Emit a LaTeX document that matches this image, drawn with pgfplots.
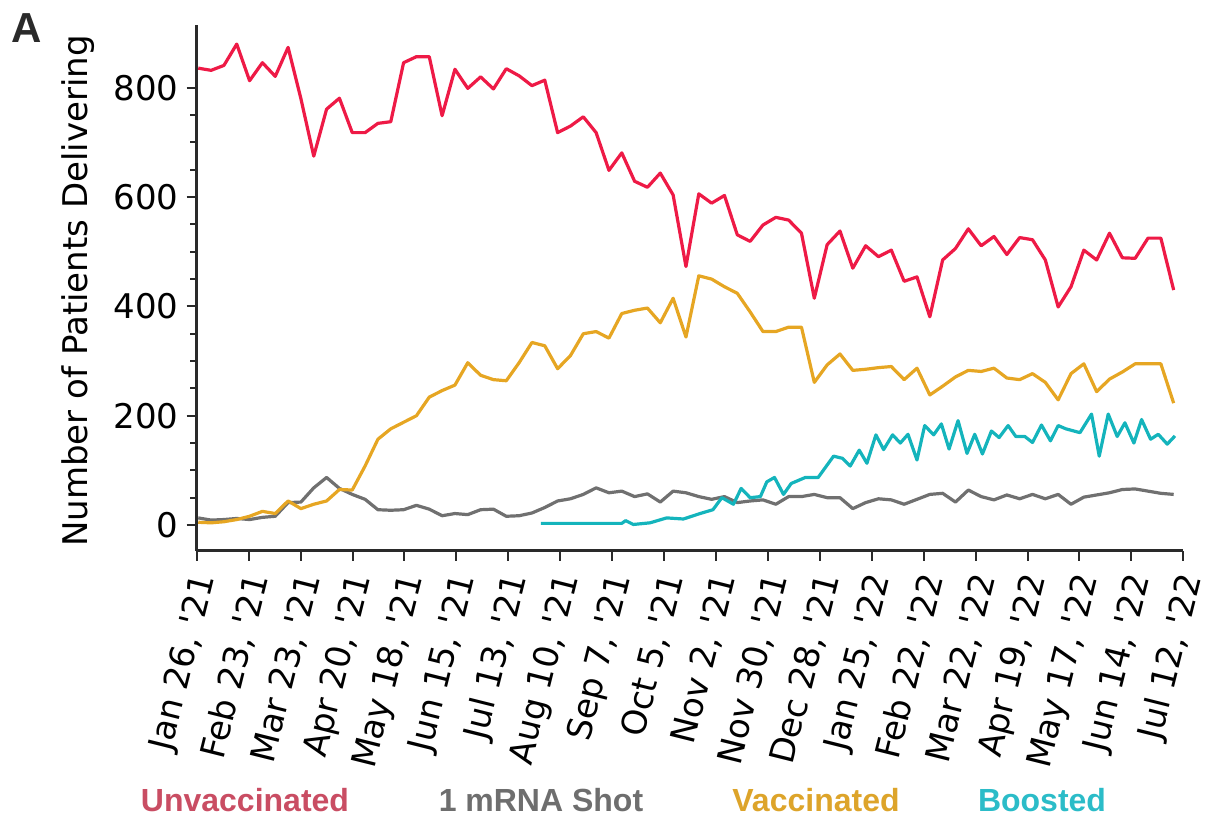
\documentclass[border=0pt]{standalone}
\usepackage{pgfplots}
\pgfplotsset{compat=1.18}
\usepackage{fontspec}
\setmainfont{DejaVu Sans}
\newfontfamily\legfont{Liberation Sans}
\definecolor{unvac}{HTML}{EE1A46}
\definecolor{unvactxt}{HTML}{C94D63}
\definecolor{shot}{HTML}{707070}
\definecolor{shottxt}{HTML}{6E6E6E}
\definecolor{vac}{HTML}{E6A623}
\definecolor{vactxt}{HTML}{DDA42A}
\definecolor{boost}{HTML}{14B4BC}
\definecolor{boosttxt}{HTML}{2BBCC8}
\definecolor{axcol}{HTML}{2A2A2A}
\newcommand{\q}{\textquotesingle}
\begin{document}
\begin{tikzpicture}
\path[use as bounding box] (0,0) rectangle (602.5bp,407bp);
\begin{axis}[
  at={(98.35bp,131.65bp)}, anchor=south west,
  scale only axis, width=493.3bp, height=262.85bp,
  xmin=-0.12, xmax=76.75, ymin=-47, ymax=915,
  axis lines=left,
  axis line style={-, line width=1.3bp, color=axcol},
  tick align=outside,
  major tick length=5bp, minor tick length=3.2bp,
  every tick/.style={line width=1bp, color=axcol},
  ytick={0,200,400,600,800},
  minor y tick num=3,
  xtick={-0.12,3.93,7.97,12.02,16.06,20.11,24.16,28.20,32.25,36.29,40.34,44.39,48.43,52.48,56.52,60.57,64.62,68.66,72.71,76.75},
  minor x tick num=3,
  xticklabels={{Jan 26, \q21},{Feb 23, \q21},{Mar 23, \q21},{Apr 20, \q21},{May 18, \q21},{Jun 15, \q21},{Jul 13, \q21},{Aug 10, \q21},{Sep 7, \q21},{Oct 5, \q21},{Nov 2, \q21},{Nov 30, \q21},{Dec 28, \q21},{Jan 25, \q22},{Feb 22, \q22},{Mar 22, \q22},{Apr 19, \q22},{May 17, \q22},{Jun 14, \q22},{Jul 12, \q22}},
  xticklabel style={font=\fontsize{17bp}{20bp}\selectfont, xshift=5bp, yshift=-6bp, rotate=76, anchor=east, inner sep=1bp},
  yticklabel style={font=\fontsize{17bp}{20bp}\selectfont, inner sep=1bp, xshift=-3bp},
  /pgf/number format/assume math mode=true,
  clip=false,
  every axis plot/.append style={line width=1.6bp, line join=round, mark=none},
]
\addplot[shot] coordinates {
(0,13)(1,9)(2,10)(3,12)(4,10)(5,14)(6,16)(7,41)(8,42)(9,68)(10,87)(11,67)(12,56)(13,47)(14,28)(15,27)(16,28)(17,36)(18,29)(19,17)
(20,21)(21,19)(22,28)(23,29)(24,16)(25,17)(26,22)(27,32)(28,44)(29,48)(30,56)(31,68)(32,59)(33,62)(34,52)(35,57)(36,42)(37,62)(38,59)(39,52)
(40,47)(41,52)(42,41)(43,44)(44,46)(45,38)(46,52)(47,52)(48,56)(49,50)(50,50)(51,30)(52,41)(53,48)(54,46)(55,38)(56,47)(57,56)(58,58)(59,42)
(60,64)(61,52)(62,46)(63,55)(64,48)(65,56)(66,48)(67,56)(68,38)(69,51)(70,55)(71,59)(72,65)(73,66)(74,62)(75,58)(76,56)};
\addplot[vac] coordinates {
(0,5)(1,4)(2,6)(3,10)(4,16)(5,25)(6,21)(7,44)(8,30)(9,38)(10,44)(11,65)(12,64)(13,108)(14,157)(15,176)(16,188)(17,200)(18,234)(19,246)
(20,256)(21,297)(22,274)(23,266)(24,264)(25,297)(26,334)(27,328)(28,286)(29,310)(30,350)(31,354)(32,342)(33,387)(34,393)(35,397)(36,370)(37,415)(38,344)(39,456)
(40,450)(41,436)(42,424)(43,390)(44,354)(45,354)(46,362)(47,362)(48,261)(49,293)(50,313)(51,283)(52,285)(53,288)(54,290)(55,266)(56,287)(57,238)(58,254)(59,271)
(60,283)(61,281)(62,287)(63,269)(64,266)(65,277)(66,261)(67,229)(68,277)(69,295)(70,244)(71,267)(72,280)(73,295)(74,295)(75,295)(76,223)};
\addplot[boost] coordinates {
(26.7,3)(33,3)(33.3,8)(33.9,1)(35.2,4)(36.5,13)(37.8,11)(39.1,21)(40.1,28)(40.8,50)(41.7,38)(42.3,67)(43,50)(43.8,52)(44.3,79)(44.9,87)(45.6,56)(46.2,76)(47.3,87)(48.3,87)
(49.5,126)(50.2,122)(50.8,108)(51.5,137)(52.1,113)(52.8,165)(53.4,138)(54.1,165)(54.7,150)(55.3,166)(56,119)(56.6,182)(57.3,165)(57.9,185)(58.5,139)(59.2,191)(59.9,131)(60.5,166)(61.1,130)(61.8,172)
(62.4,160)(63.1,182)(63.7,162)(64.4,162)(65,151)(65.7,183)(66.4,154)(67,182)(67.6,176)(68.7,169)(69.6,203)(70.2,126)(70.9,203)(71.6,162)(72.2,187)(72.9,150)(73.5,193)(74.2,157)(74.8,166)(75.5,148)(76.1,163)};
\addplot[unvac] coordinates {
(0,836)(1,832)(2,841)(3,880)(4,813)(5,846)(6,821)(7,874)(8,780)(9,675)(10,761)(11,781)(12,718)(13,718)(14,735)(15,738)(16,846)(17,857)(18,857)(19,749)
(20,834)(21,799)(22,820)(23,798)(24,835)(25,822)(26,804)(27,814)(28,718)(29,730)(30,747)(31,718)(32,649)(33,681)(34,629)(35,618)(36,644)(37,604)(38,473)(39,606)
(40,589)(41,603)(42,531)(43,519)(44,549)(45,563)(46,558)(47,534)(48,415)(49,513)(50,538)(51,470)(52,511)(53,491)(54,503)(55,446)(56,454)(57,381)(58,485)(59,506)
(60,542)(61,511)(62,528)(63,495)(64,526)(65,522)(66,485)(67,399)(68,436)(69,503)(70,485)(71,534)(72,489)(73,488)(74,525)(75,525)(76,430)};
\end{axis}
\node[font=\fontsize{17bp}{20bp}\selectfont, rotate=90] at (39bp,261.5bp) {Number of Patients Delivering};
\node[font=\legfont\bfseries\fontsize{21bp}{24bp}\selectfont, color=axcol] at (13.5bp,393bp) {A};
\node[font=\legfont\bfseries\fontsize{16bp}{19bp}\selectfont, color=unvactxt] at (122.5bp,7bp) {Unvaccinated};
\node[font=\legfont\bfseries\fontsize{16bp}{19bp}\selectfont, color=shottxt] at (270.5bp,7bp) {1 mRNA Shot};
\node[font=\legfont\bfseries\fontsize{16bp}{19bp}\selectfont, color=vactxt] at (408bp,7bp) {Vaccinated};
\node[font=\legfont\bfseries\fontsize{16bp}{19bp}\selectfont, color=boosttxt] at (521bp,7bp) {Boosted};
\end{tikzpicture}
\end{document}
